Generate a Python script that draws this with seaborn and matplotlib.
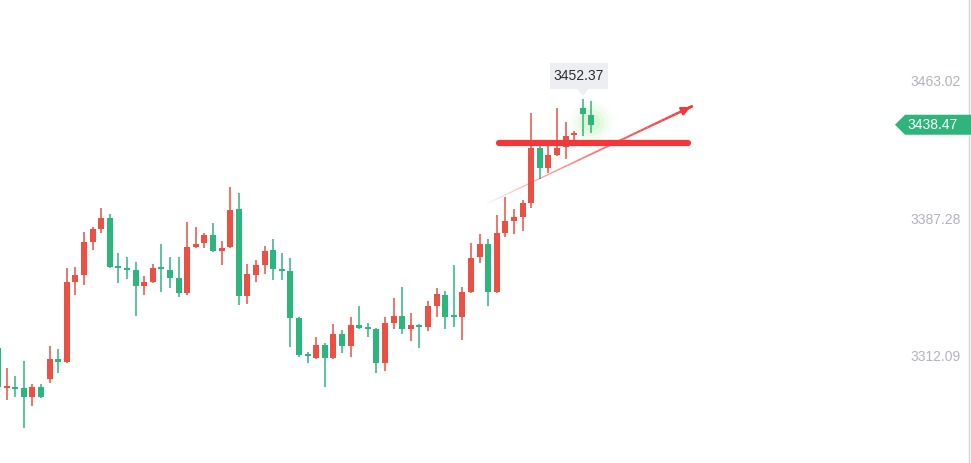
import numpy as np
import seaborn as sns
import matplotlib.pyplot as plt
from matplotlib.collections import LineCollection
from matplotlib.patches import Polygon, Rectangle

# candle data (red = up, green = down)
opens = [3315.94, 3293.99, 3294.26, 3293.99, 3289.05, 3294.53, 3298.92, 3309.90, 3308.25, 3352.16,
         3356.00, 3374.11, 3381.24, 3387.28, 3360.94, 3359.29, 3358.74, 3349.96, 3352.16, 3359.84,
         3358.74, 3354.35, 3346.12, 3371.37, 3373.56, 3377.95, 3369.17, 3371.37, 3392.22, 3344.48,
         3356.00, 3361.49, 3369.72, 3359.29, 3358.20, 3332.40, 3312.64, 3310.45, 3317.58, 3310.45,
         3323.62, 3317.04, 3328.56, 3326.91, 3326.36, 3307.71, 3329.66, 3333.50, 3326.36, 3328.56,
         3327.46, 3338.99, 3345.02, 3333.50, 3332.95, 3346.67, 3365.88, 3373.01, 3346.67, 3379.05,
         3385.64, 3387.83, 3395.51, 3425.70, 3414.72, 3421.86, 3426.25, 3432.83, 3447.65, 3443.81]
highs = [3316.50, 3304.96, 3300.57, 3308.80, 3296.18, 3296.18, 3317.04, 3315.39, 3359.84, 3360.39,
         3379.60, 3382.34, 3392.77, 3389.48, 3368.07, 3365.88, 3363.13, 3355.45, 3362.04, 3373.01,
         3365.88, 3365.88, 3385.09, 3382.34, 3379.05, 3384.54, 3374.66, 3404.29, 3401.00, 3362.04,
         3364.23, 3371.92, 3375.76, 3368.07, 3365.33, 3332.95, 3313.74, 3321.97, 3318.68, 3329.11,
         3325.82, 3332.95, 3338.99, 3329.66, 3326.91, 3332.95, 3343.38, 3349.41, 3335.15, 3329.11,
         3341.73, 3348.87, 3347.22, 3361.49, 3349.41, 3373.56, 3378.50, 3375.76, 3388.93, 3398.81,
         3392.22, 3397.16, 3444.91, 3430.09, 3426.80, 3447.65, 3439.97, 3435.03, 3452.37, 3451.49]
lows = [3292.89, 3287.40, 3289.05, 3272.03, 3284.11, 3288.50, 3296.73, 3302.22, 3307.71, 3345.02,
        3350.51, 3369.72, 3379.05, 3359.84, 3351.61, 3353.80, 3333.50, 3345.02, 3351.61, 3346.67,
        3348.87, 3343.93, 3345.02, 3370.82, 3370.82, 3368.62, 3361.49, 3370.82, 3339.54, 3340.08,
        3352.16, 3356.55, 3353.26, 3353.26, 3316.49, 3311.00, 3307.71, 3309.90, 3294.53, 3309.90,
        3313.19, 3311.00, 3326.36, 3321.97, 3302.22, 3303.32, 3326.36, 3323.62, 3319.78, 3315.94,
        3325.27, 3332.95, 3326.36, 3327.46, 3320.33, 3346.12, 3362.59, 3338.99, 3346.12, 3376.85,
        3378.50, 3380.15, 3392.77, 3408.68, 3411.98, 3421.31, 3419.66, 3430.09, 3432.28, 3433.93]
closes = [3294.53, 3294.53, 3293.44, 3289.05, 3294.53, 3289.05, 3309.90, 3308.25, 3352.16, 3356.00,
          3374.11, 3381.24, 3387.28, 3360.39, 3359.84, 3358.74, 3349.96, 3352.16, 3359.84, 3359.29,
          3354.35, 3346.12, 3371.37, 3373.01, 3377.95, 3369.17, 3370.82, 3391.67, 3344.48, 3356.55,
          3361.49, 3369.17, 3359.29, 3358.20, 3332.40, 3312.10, 3311.55, 3317.58, 3310.45, 3323.62,
          3317.04, 3328.56, 3326.91, 3326.36, 3307.71, 3329.66, 3333.50, 3326.36, 3328.56, 3327.46,
          3338.99, 3345.57, 3332.95, 3332.95, 3346.67, 3365.33, 3373.01, 3346.67, 3379.05, 3385.64,
          3387.83, 3395.51, 3425.70, 3414.72, 3421.86, 3425.70, 3432.28, 3433.93, 3444.36, 3438.47]

price_ticks = [3312.09, 3387.28, 3463.02]
last_price = 3438.47
peak_price = 3452.37
peak_index = 68

# drawn annotations (candle index, price)
support_line = ((58.3, 80.2), 3428.6)
trend_start = (56.5, 3394.4)
trend_end = (80.8, 3448.8)

UP = "#ea5044"
DOWN = "#2db57e"
LINE_RED = "#f2373a"

sns.set_style("white")
plt.rcParams["font.family"] = ["Liberation Sans", "DejaVu Sans"]

fig = plt.figure(figsize=(9.71, 4.63), dpi=100)
ax = fig.add_axes([0, 0, 969 / 971, 1])

# pixel scales of the chart: 8.6 px per candle, 0.5488 price per px
px_x = 1 / 8.6
px_y = 0.5488
ax.set_xlim(0.24, 0.24 + 969 * px_x)
ax.set_ylim(3252.83, 3252.83 + 463 * px_y)

o = np.array(opens)
h = np.array(highs)
l = np.array(lows)
c = np.array(closes)
idx = np.arange(len(o))
colors = np.where(c >= o, UP, DOWN)

ax.vlines(idx, l, h, colors=colors, linewidth=1.1, zorder=2)
body_low = np.minimum(o, c)
body_h = np.maximum(np.abs(c - o), 0.9)
ax.bar(idx, body_h, bottom=body_low, width=0.7, color=colors, linewidth=0, zorder=3)

# glow around the live candle
for s, a in [(900, 0.05), (600, 0.06), (350, 0.09), (160, 0.12)]:
    ax.scatter([idx[-1]], [3440.0], s=s, color="#86e070", alpha=a, linewidths=0, zorder=1)

# thick horizontal red line
ax.plot(support_line[0], [support_line[1]] * 2, color=LINE_RED, linewidth=4.5,
        solid_capstyle="round", zorder=5)

# fading trend arrow
n = 60
xs = np.linspace(trend_start[0], trend_end[0], n + 1)
ys = np.linspace(trend_start[1], trend_end[1], n + 1)
segs = [[(xs[k], ys[k]), (xs[k + 1], ys[k + 1])] for k in range(n)]
fade = np.linspace(0.0, 1.0, n) ** 0.6
seg_colors = [(0.95, 0.22, 0.23, a) for a in fade]
lc = LineCollection(segs, colors=seg_colors, linewidths=np.linspace(0.6, 1.9, n), zorder=5)
ax.add_collection(lc)
ax.annotate("", xy=trend_end,
            xytext=(trend_end[0] - 0.6, trend_end[1] - 0.6 * (trend_end[1] - trend_start[1]) / (trend_end[0] - trend_start[0])),
            arrowprops=dict(arrowstyle="-|>", color=LINE_RED, lw=1.8, mutation_scale=12),
            zorder=6)

# peak price bubble
bx0 = peak_index - 33 * px_x
bx1 = peak_index + 25 * px_x
by0 = peak_price + 10.4 * px_y
by1 = peak_price + 36.4 * px_y
ax.add_patch(Rectangle((bx0, by0), bx1 - bx0, by1 - by0, facecolor="#eceef1",
                       edgecolor="none", zorder=6))
ax.add_patch(Polygon([(peak_index - 5.5 * px_x, by0), (peak_index + 5.5 * px_x, by0),
                      (peak_index, peak_price + 3.5 * px_y)], closed=True,
                     facecolor="#eceef1", edgecolor="none", zorder=6))
ax.text((bx0 + bx1) / 2, (by0 + by1) / 2, f"{peak_price:.2f}", ha="center", va="center",
        fontsize=10, color="#2b2b2b", zorder=7)

# last price tag on the right
x_right = ax.get_xlim()[1]
tag_h = 10 * px_y
ax.add_patch(Polygon([(x_right - 74 * px_x, last_price), (x_right - 64 * px_x, last_price + tag_h),
                      (x_right + 2 * px_x, last_price + tag_h), (x_right + 2 * px_x, last_price - tag_h),
                      (x_right - 64 * px_x, last_price - tag_h)], closed=True,
                     facecolor="#2fb47c", edgecolor="none", zorder=8, clip_on=False))
ax.text(x_right - 36 * px_x, last_price, f"{last_price:.2f}", ha="center", va="center",
        fontsize=10, color="white", zorder=9)

# right price axis
ax.yaxis.tick_right()
ax.set_yticks(price_ticks)
ax.set_yticklabels([f"{p:.2f}" for p in price_ticks])
ax.tick_params(axis="y", length=0, pad=-5.8, labelsize=10, labelcolor="#b2b4bc")
for lbl in ax.get_yticklabels():
    lbl.set_horizontalalignment("right")
ax.set_xticks([])
for side in ["top", "left", "bottom"]:
    ax.spines[side].set_visible(False)
ax.spines["right"].set_color("#d2d2de")
ax.spines["right"].set_linewidth(1.0)

fig.savefig("out.png", dpi=100)
